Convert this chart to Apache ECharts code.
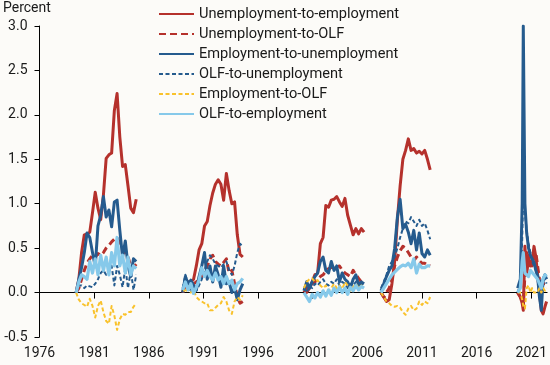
<!DOCTYPE html>
<html><head><meta charset="utf-8">
<script src="https://cdn.jsdelivr.net/npm/echarts@6/dist/echarts.min.js"></script>
<style>html,body{margin:0;padding:0;background:#fcfbf8}#c{width:550px;height:365px}</style>
</head><body><div id="c"></div>
<script>
// Episode dates (decimal years)
const ep1Start = 1979.35, ep2Start = 1989.1, ep3Start = 2000.2, ep4Start = 2007.25;
const ep5Years = [2019.75, 2020.0, 2020.17, 2020.27, 2020.42, 2020.58, 2020.75, 2020.92, 2021.08, 2021.25, 2021.42, 2021.58, 2021.75, 2021.92, 2022.08, 2022.25, 2022.4];
const xTicks = [1976, 1981, 1986, 1991, 1996, 2001, 2006, 2011, 2016, 2021];

// Unemployment-to-employment
const uToE = [
  [0, 0.15, 0.45, 0.65, 0.66, 0.68, 0.9, 1.13, 0.95, 0.82, 1.1, 1.51, 1.55, 1.57, 2.05, 2.24, 1.75, 1.42, 1.44, 1.2, 0.95, 0.9, 1.05],
  [0, 0.1, 0.05, 0.12, 0.15, 0.3, 0.48, 0.55, 0.75, 0.8, 0.98, 1.12, 1.22, 1.27, 1.22, 1.04, 1.34, 1.15, 1.0, 1.02, 0.65, 0.43, 0.4],
  [0, 0.0, 0.05, 0.12, 0.2, 0.22, 0.55, 0.62, 0.98, 0.96, 1.04, 1.05, 1.08, 1.02, 0.97, 1.06, 0.87, 0.76, 0.65, 0.72, 0.66, 0.72, 0.68],
  [0, -0.05, -0.1, -0.08, 0.1, 0.35, 0.82, 1.2, 1.5, 1.6, 1.73, 1.6, 1.62, 1.57, 1.59, 1.56, 1.6, 1.5, 1.38],
  [0, -0.05, -0.12, -0.2, 0.52, 0.2, 0.4, 0.3, 0.35, 0.52, 0.4, 0.2, 0.0, -0.2, -0.24, -0.16, -0.1]
];
// Unemployment-to-OLF
const uToO = [
  [0, 0.05, 0.15, 0.25, 0.33, 0.38, 0.42, 0.4, 0.44, 0.42, 0.45, 0.5, 0.53, 0.57, 0.6, 0.62, 0.55, 0.5, 0.45, 0.4, 0.3, 0.28, 0.32],
  [0, 0.08, 0.12, 0.05, 0.1, 0.12, 0.15, 0.18, 0.2, 0.3, 0.38, 0.42, 0.35, 0.32, 0.3, 0.34, 0.38, 0.22, 0.25, 0.1, -0.05, -0.12, -0.1],
  [0, 0.05, 0.08, 0.1, 0.12, 0.15, 0.18, 0.2, 0.24, 0.27, 0.28, 0.31, 0.29, 0.3, 0.25, 0.22, 0.2, 0.18, 0.25, 0.2, 0.16, 0.12, 0.14],
  [0, -0.05, 0, 0.05, 0.15, 0.3, 0.4, 0.47, 0.52, 0.5, 0.45, 0.4, 0.36, 0.4, 0.36, 0.33, 0.33, 0.31, 0.3],
  [0, -0.05, -0.1, -0.15, 0.2, 0.45, 0.4, 0.35, 0.3, 0.4, 0.45, 0.3, 0.15, 0.05, 0.1, 0.12, 0.1]
];
// Employment-to-unemployment
const eToU = [
  [0, 0.15, 0.28, 0.45, 0.67, 0.62, 0.45, 0.29, 0.75, 0.87, 1.08, 0.85, 0.93, 0.74, 1.02, 1.04, 0.7, 0.4, 0.58, 0.3, 0.18, 0.38, 0.35],
  [0, 0.18, 0.1, 0.14, 0.08, 0.03, 0.18, 0.3, 0.45, 0.15, 0.3, 0.12, 0.3, 0.2, 0.06, 0.3, 0.1, 0.12, 0.0, 0.05, -0.08, 0.03, 0.1],
  [0.02, 0.12, 0.05, 0.12, 0.18, 0.22, 0.35, 0.4, 0.25, 0.22, 0.35, 0.25, 0.3, 0.12, 0.22, 0.15, 0.12, 0.05, 0.15, 0.2, 0.08, 0.12, 0.1],
  [0.02, 0.1, 0.18, 0.25, 0.3, 0.5, 0.85, 1.05, 0.72, 0.77, 0.68, 0.55, 0.7, 0.48, 0.67, 0.44, 0.4, 0.48, 0.42],
  [0.05, 0.15, 1.0, 3.0, 1.0, 0.67, 0.5, 0.42, 0.38, 0.34, 0.25, 0.18, -0.05, -0.2, 0.15, 0.2, 0.15]
];
// OLF-to-unemployment
const oToU = [
  [0, 0.08, 0.08, 0.05, 0.08, 0.07, 0.06, 0.1, 0.15, 0.22, 0.25, 0.2, 0.25, 0.3, 0.08, 0.3, 0.2, 0.06, 0.28, 0.05, 0.25, 0.03, 0.2],
  [0.05, 0.2, 0.1, 0.0, 0.05, 0.02, 0.08, 0.15, 0.25, 0.35, 0.42, 0.38, 0.32, 0.3, 0.28, 0.32, 0.35, 0.25, 0.2, 0.3, 0.45, 0.55, 0.52],
  [0.05, 0.0, 0.08, 0.05, 0.1, 0.08, 0.12, 0.15, 0.1, 0.08, 0.12, 0.1, 0.15, 0.08, 0.12, 0.1, 0.05, 0.1, 0.08, 0.12, 0.05, 0.1, 0.08],
  [0.05, 0.12, 0.2, 0.3, 0.35, 0.4, 0.5, 0.62, 0.72, 0.8, 0.78, 0.85, 0.8, 0.75, 0.82, 0.75, 0.78, 0.7, 0.6],
  [0.0, 0.1, 0.6, 1.19, 0.9, 0.7, 0.55, 0.45, 0.35, 0.3, 0.25, 0.2, 0.15, 0.1, 0.12, 0.15, 0.1]
];
// Employment-to-OLF
const eToO = [
  [0, -0.08, -0.12, -0.14, -0.16, -0.07, -0.15, -0.28, -0.15, -0.09, -0.22, -0.32, -0.35, -0.15, -0.26, -0.42, -0.3, -0.24, -0.25, -0.22, -0.22, -0.16, -0.12],
  [0.05, 0.0, 0.08, 0.0, 0.03, -0.05, -0.08, -0.1, -0.12, -0.12, -0.2, -0.2, -0.17, -0.14, -0.12, -0.05, -0.1, -0.2, -0.24, -0.1, -0.05, -0.08, -0.03],
  [0.05, 0.12, 0.15, 0.16, 0.12, 0.14, 0.08, 0.05, 0.08, 0.02, 0.05, 0.1, 0.05, 0.08, 0.04, 0.12, 0.08, 0.02, 0.06, 0.1, 0.05, 0.08, 0.05],
  [0, -0.05, -0.1, -0.12, -0.15, -0.16, -0.15, -0.17, -0.22, -0.25, -0.18, -0.15, -0.2, -0.18, -0.1, -0.14, -0.1, -0.12, -0.05],
  [0, 0, -0.08, -0.15, -0.18, 0.05, 0.08, 0, 0.05, 0, 0.02, 0, 0.05, 0, 0.05, 0.02, 0.05]
];
// OLF-to-employment
const oToE = [
  [0, 0.12, 0.2, 0.18, 0.15, 0.35, 0.22, 0.38, 0.2, 0.42, 0.25, 0.4, 0.2, 0.45, 0.3, 0.62, 0.3, 0.42, 0.22, 0.4, 0.2, 0.3, 0.27],
  [0.03, 0.12, 0.03, 0.1, -0.01, 0.06, 0.14, 0.28, 0.18, 0.25, 0.18, 0.14, 0.22, 0.14, 0.18, 0.1, 0.18, 0.1, 0.14, 0.03, 0.1, 0.12, 0.16],
  [0, -0.05, -0.1, -0.02, -0.06, 0.0, -0.05, 0.02, -0.04, 0.03, -0.03, 0.05, 0.0, 0.06, 0.0, 0.05, -0.02, 0.06, 0.02, 0.08, 0.03, 0.07, 0.05],
  [0, 0.05, 0.1, 0.15, 0.2, 0.23, 0.26, 0.29, 0.31, 0.3, 0.33, 0.28, 0.38, 0.22, 0.32, 0.28, 0.28, 0.3, 0.3],
  [0, 0.05, 0.35, 0.45, 0.22, 0.2, 0.18, 0.25, 0.25, 0.2, 0.22, 0.15, 0.1, 0.05, 0.15, 0.2, 0.18]
];

const names = ['Unemployment-to-employment','Unemployment-to-OLF','Employment-to-unemployment','OLF-to-unemployment','Employment-to-OLF','OLF-to-employment'];

// quarterly dates for first four episodes
function quarters(start, n){ const a=[]; for(let i=0;i<n;i++) a.push(+(start+0.25*i).toFixed(3)); return a; }
const epYears = [quarters(ep1Start,23), quarters(ep2Start,23), quarters(ep3Start,23), quarters(ep4Start,19), ep5Years];

function build(vals){
  const out=[];
  vals.forEach((ep,k)=>{
    if(k>0) out.push([epYears[k][0]-0.5, null]);
    ep.forEach((v,i)=>out.push([epYears[k][i], v]));
  });
  return out;
}

const RED='#b5312c', BLUE='#255b8e', YEL='#f9c22c', LBLUE='#86c9ea';
const styles = [
  {color:RED, width:3, type:'solid'},
  {color:RED, width:3, type:[7,4]},
  {color:BLUE, width:3, type:'solid'},
  {color:BLUE, width:2, type:[4,2.5]},
  {color:YEL, width:2, type:[4,2.5]},
  {color:LBLUE, width:3.2, type:'solid'}
];
const all=[uToE,uToO,eToU,oToU,eToO,oToE];

const chart = echarts.init(document.getElementById('c'), null, {renderer:'canvas'});
chart.setOption({
  backgroundColor:'#fcfbf8',
  animation:false,
  textStyle:{fontFamily:'Roboto'},
  grid:{left:39.5, right:0, top:26, bottom:28, containLabel:false},
  legend:{
    orient:'vertical', left:158, top:6.5, padding:0, itemWidth:35, itemHeight:14, itemGap:5,
    itemStyle:{opacity:0},
    textStyle:{fontSize:14.6, lineHeight:14, color:'#1a1a1a', fontFamily:'Roboto'},
    data:names
  },
  graphic:[{type:'text', left:3, top:1, style:{text:'Percent', font:'14px Roboto', fill:'#1a1a1a'}}],
  xAxis:{
    type:'value', min:1976, max:2022.45,
    axisLine:{lineStyle:{color:'#000', width:1}},
    axisTick:{show:true, length:6, lineStyle:{color:'#000'}, customValues:xTicks},
    axisLabel:{fontSize:14, color:'#1a1a1a', margin:9, customValues:xTicks, formatter:v=>String(v)},
    splitLine:{show:false}
  },
  yAxis:{
    type:'value', min:-0.5, max:3, interval:0.5,
    axisLine:{show:true, lineStyle:{color:'#000', width:1}},
    axisTick:{show:true, length:5, lineStyle:{color:'#000'}},
    axisLabel:{fontSize:14, color:'#1a1a1a', margin:12, formatter:v=>v.toFixed(1)},
    splitLine:{show:false}
  },
  series: all.map((vals,k)=>({
    name:names[k], type:'line', symbol:'none', connectNulls:false,
    data:build(vals),
    itemStyle:{color:styles[k].color},
    lineStyle:{color:styles[k].color, width:styles[k].width, type:styles[k].type, cap:'butt', join:'round'},
    z:2+k
  }))
});
</script></body></html>
